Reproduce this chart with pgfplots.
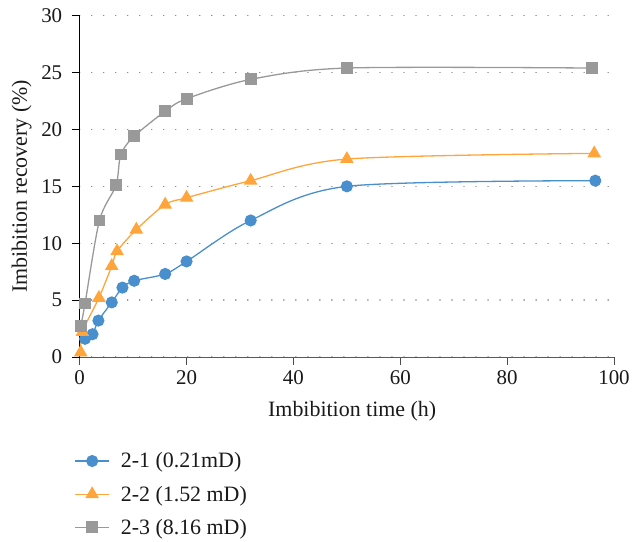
\documentclass[border=0pt]{standalone}
\usepackage{fontspec}
\setmainfont{Liberation Serif}
\usepackage{pgfplots}
\pgfplotsset{compat=1.18}
\definecolor{cblue}{HTML}{4A8FCD}
\definecolor{corange}{HTML}{FFA53B}
\definecolor{cgray}{HTML}{999999}
\begin{document}
\begin{tikzpicture}
\useasboundingbox (-79.7bp,-185bp) rectangle (562.3bp,357bp);
\begin{axis}[
  scale only axis,
  width=534.3bp, height=341.3bp,
  xmin=0, xmax=100, ymin=0, ymax=30,
  xtick={0,20,...,100}, ytick={0,5,...,30},
  /pgf/number format/assume math mode=true,
  axis x line*=bottom, axis y line*=left,
  x axis line style={draw=black!65, line width=1pt, -},
  y axis line style={draw=black, line width=0.9pt, -},
  tick align=outside, major tick length=8bp,
  xtick style={draw=black!70, line width=0.9pt},
  ytick style={draw=black, line width=0.9pt},
  ymajorgrids,
  grid style={draw=black!55, line width=1.4pt, dash pattern=on 0.01bp off 12bp, line cap=round},
  ticklabel style={font=\fontsize{21}{24}\selectfont, text=black!90},
  xticklabel style={yshift=-2bp},
  yticklabel style={xshift=-6bp},
  label style={font=\fontsize{22}{25}\selectfont, text=black!90},
  xlabel={Imbibition time (h)},
  ylabel={Imbibition recovery (\%)},
  xlabel style={at={(axis description cs:0.51,-0.158)}, anchor=center},
  ylabel style={at={(axis description cs:-0.1086,0.5)}, anchor=center},
  clip=false,
  legend style={at={(axis description cs:-0.0138,-0.268)}, anchor=north west, draw=none, fill=none,
    font=\fontsize{22}{25}\selectfont, text=black!90, row sep=12.5bp, inner sep=2bp,
    /tikz/every odd column/.append style={column sep=9bp}},
  legend cell align=left,
  legend image code/.code={\draw[mark repeat=2,mark phase=2] plot coordinates {(0bp,0bp) (17bp,0bp) (34bp,0bp)};},
  every axis plot/.append style={line width=1.3bp, smooth, tension=0.5},
]
\addplot[color=cblue, mark=*, mark size=5.4bp, mark options={solid, fill=cblue, draw=cblue}] coordinates {
 (1,1.6) (2.4,2.0) (3.5,3.2) (6,4.8) (8,6.1) (10.2,6.7) (16,7.3) (20,8.4) (32,12.0) (50,15.0) (96.5,15.5)};
\addlegendentry{2-1 (0.21mD)}
\addplot[color=corange, mark=triangle*, mark size=6.6bp, mark options={solid, fill=corange, draw=corange}] coordinates {
 (0.2,0.4) (0.5,2.2) (3.6,5.2) (6,8.0) (7,9.3) (10.6,11.2) (16,13.4) (20,14.0) (32,15.5) (50,17.4) (96.3,17.9)};
\addlegendentry{2-2 (1.52 mD)}
\addplot[color=cgray, mark=square*, mark size=5.3bp, mark options={solid, fill=cgray, draw=cgray}] coordinates {
 (0.2,2.7) (1,4.7) (3.7,12.0) (6.8,15.1) (7.7,17.8) (10.2,19.4) (16,21.6) (20,22.7) (32,24.4) (50,25.4) (95.8,25.4)};
\addlegendentry{2-3 (8.16 mD)}
\end{axis}
\end{tikzpicture}
\end{document}
